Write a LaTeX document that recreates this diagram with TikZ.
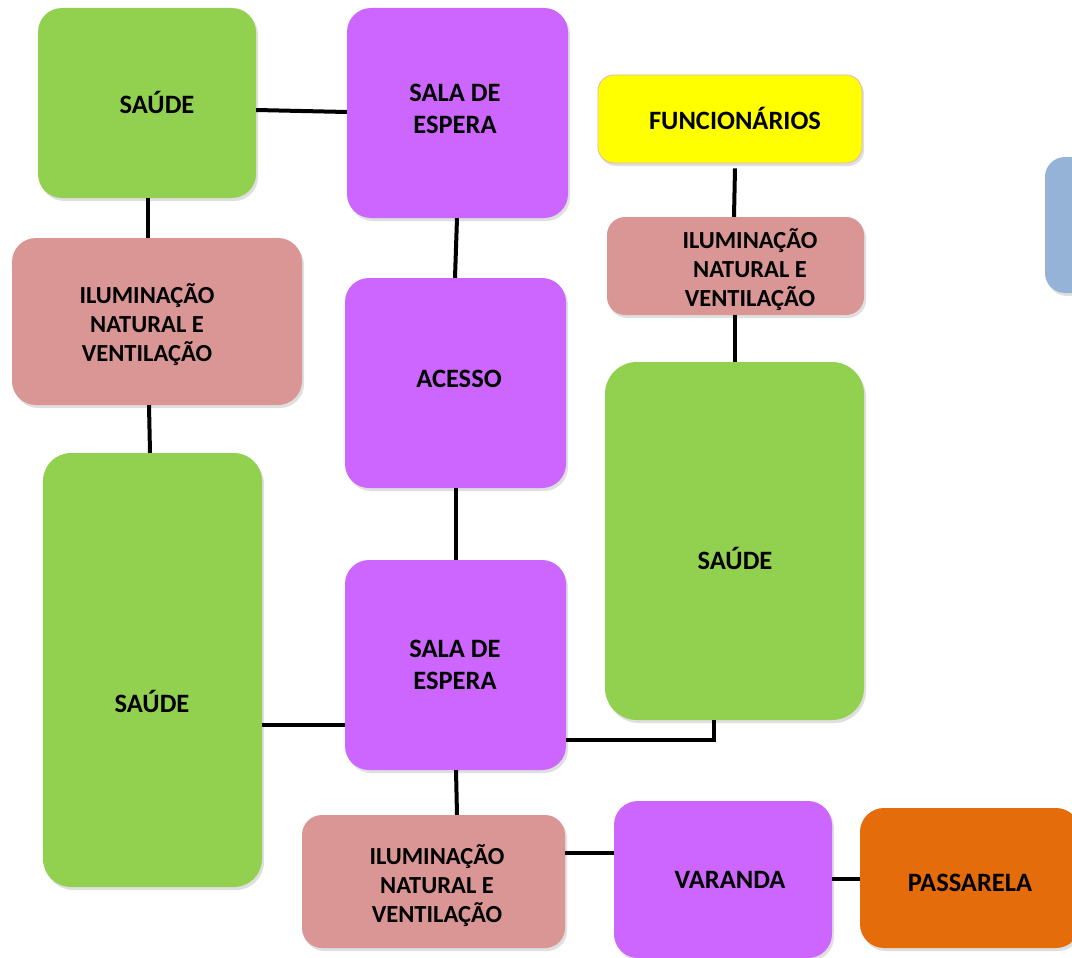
\documentclass[tikz,border=0pt]{standalone}
\usepackage{fontspec}
\setmainfont{Carlito}
\usetikzlibrary{shadows}
\definecolor{cgreen}{HTML}{92D050}
\definecolor{cpurple}{HTML}{CC66FF}
\definecolor{cyellow}{HTML}{FFFF00}
\definecolor{cpink}{HTML}{DA9694}
\definecolor{corange}{HTML}{E46C0A}
\definecolor{cblue}{HTML}{95B3D7}
\tikzset{
  box/.style={rectangle, rounded corners=24pt, inner sep=0pt, draw=none,
    drop shadow={opacity=0.25, shadow xshift=2pt, shadow yshift=-3pt}},
  lbl/.style={font=\bfseries\fontsize{26.5}{32}\selectfont, align=center, text=black, inner sep=0pt},
  smalllbl/.style={font=\bfseries\fontsize{24.5}{29}\selectfont, align=center, text=black, inner sep=0pt},
  conn/.style={line width=4pt, black}
}
\newcommand{\bx}[6]{% name, x1, y1, x2, y2, colour
  \node[box, fill=#6, minimum width={(#4-#2)*1pt}, minimum height={(#5-#3)*1pt}] (#1) at ({(#2+#4)/2},{(#3+#5)/2}) {};}
\begin{document}
\begin{tikzpicture}[x=1pt,y=-1pt]
\useasboundingbox (0,0) rectangle (1072,958);
\clip (0,0) rectangle (1072,958);
\fill[white] (0,0) rectangle (1072,958);
% boxes
\bx{s1}{38}{8}{256}{198}{cgreen}
\bx{e1}{347}{8}{568}{218}{cpurple}
\node[box, fill=cyellow, rounded corners=16pt, draw=cpink!70, line width=0.8pt, minimum width=264pt, minimum height=88pt] (fu) at (730,119) {};
\node[box, fill=cblue, rounded corners=20pt, minimum width=80pt, minimum height=136pt] (bl) at (1085,225) {};
\bx{i1}{12}{238}{302}{405}{cpink}
\bx{ac}{345}{278}{566}{488}{cpurple}
\node[box, fill=cpink, rounded corners=18pt, minimum width=257pt, minimum height=98pt] (i2) at (735.5,266) {};
\node[box, fill=cgreen, rounded corners=32pt, minimum width=259pt, minimum height=358pt] (s3) at (734.5,541) {};
\node[box, fill=cgreen, rounded corners=28pt, minimum width=219pt, minimum height=434pt] (s2) at (152.5,670) {};
\bx{e2}{345}{560}{566}{770}{cpurple}
\node[box, fill=cpink, rounded corners=20pt, minimum width=263pt, minimum height=133pt] (i3) at (433.5,881.5) {};
\bx{va}{614}{801}{832}{958}{cpurple}
\bx{pa}{860}{808}{1080}{948}{corange}
% labels
\node[lbl] (t1) at (157,102) {SAÚDE};
\node[lbl] (t2) at (455,109) {SALA DE\\ESPERA};
\node[lbl] (t3) at (735,118) {FUNCIONÁRIOS};
\node[smalllbl] (t4) at (147,325) {ILUMINAÇÃO\\NATURAL E\\VENTILAÇÃO};
\node[lbl] (t5) at (459,379) {ACESSO};
\node[smalllbl] (t6) at (750,270) {ILUMINAÇÃO\\NATURAL E\\VENTILAÇÃO};
\node[lbl] (t7) at (735,558) {SAÚDE};
\node[lbl] (t8) at (152,701) {SAÚDE};
\node[lbl] (t9) at (455,665) {SALA DE\\ESPERA};
\node[smalllbl] (t10) at (437,886) {ILUMINAÇÃO\\NATURAL E\\VENTILAÇÃO};
\node[lbl] (t11) at (730,880) {VARANDA};
\node[lbl] (t12) at (970,883) {PASSARELA};
% connectors
\draw[conn] (s1.east |- 0,110) -- (e1.west |- 0,112);
\draw[conn] (s1.south -| 148,0) -- (i1.north -| 148,0);
\draw[conn] (i1.south -| 149,0) -- (s2.north -| 150,0);
\draw[conn] (e1.south -| 457,0) -- (ac.north -| 455,0);
\draw[conn] (ac.south -| 456,0) -- (e2.north -| 456,0);
\draw[conn] (s2.east |- 0,725) -- (e2.west |- 0,725);
\draw[conn] (e2.east |- 0,740) -- (714,740) -- (s3.south -| 714,0);
\draw[conn] (e2.south -| 456,0) -- (i3.north -| 457,0);
\draw[conn] (i3.east |- 0,853) -- (va.west |- 0,853);
\draw[conn] (va.east |- 0,879) -- (pa.west |- 0,879);
\draw[conn] (fu.south -| 735,0) ++(0,5) -- (i2.north -| 734,0);
\draw[conn] (i2.south -| 735,0) -- (s3.north -| 735,0);
\end{tikzpicture}
\end{document}
